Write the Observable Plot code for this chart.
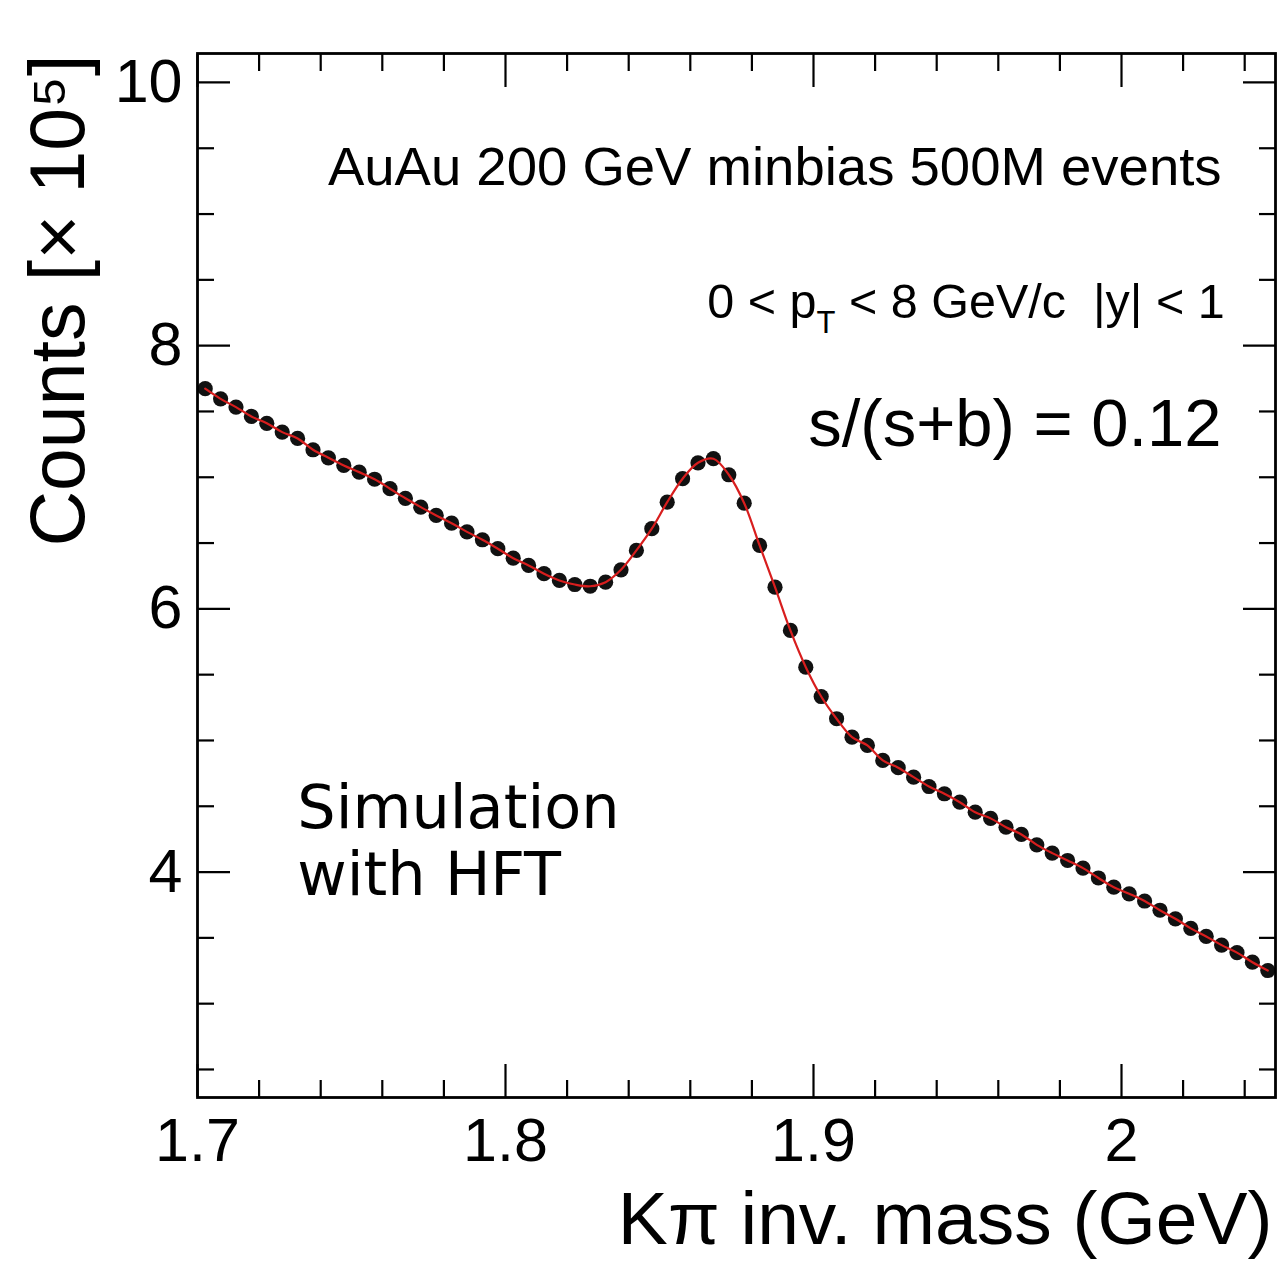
<!DOCTYPE html>
<html>
<head>
<meta charset="utf-8">
<script src="https://cdn.jsdelivr.net/npm/d3@7"></script>
<script src="https://cdn.jsdelivr.net/npm/@observablehq/plot@0.6"></script>
<style>
  html, body { margin: 0; padding: 0; background: #fff; }
  #chart svg { display: block; }
</style>
</head>
<body>
<div id="chart"></div>
<script>
// Bin centres (GeV) of the K-pi invariant mass histogram
const mass = [
  1.7025, 1.7075, 1.7125, 1.7175, 1.7225, 1.7275, 1.7325, 1.7375, 1.7425, 1.7475,
  1.7525, 1.7575, 1.7625, 1.7675, 1.7725, 1.7775, 1.7825, 1.7875, 1.7925, 1.7975,
  1.8025, 1.8075, 1.8125, 1.8175, 1.8225, 1.8275, 1.8325, 1.8375, 1.8425, 1.8475,
  1.8525, 1.8575, 1.8625, 1.8675, 1.8725, 1.8775, 1.8825, 1.8875, 1.8925, 1.8975,
  1.9025, 1.9075, 1.9125, 1.9175, 1.9225, 1.9275, 1.9325, 1.9375, 1.9425, 1.9475,
  1.9525, 1.9575, 1.9625, 1.9675, 1.9725, 1.9775, 1.9825, 1.9875, 1.9925, 1.9975,
  2.0025, 2.0075, 2.0125, 2.0175, 2.0225, 2.0275, 2.0325, 2.0375, 2.0425, 2.0475
];
// Counts (x 10^5)
const counts = [
  7.673, 7.596, 7.533, 7.462, 7.410, 7.343, 7.295, 7.209, 7.148, 7.090,
  7.039, 6.985, 6.913, 6.840, 6.773, 6.710, 6.651, 6.585, 6.525, 6.457,
  6.385, 6.330, 6.267, 6.216, 6.185, 6.172, 6.203, 6.297, 6.444, 6.609,
  6.811, 6.989, 7.110, 7.141, 7.019, 6.803, 6.482, 6.165, 5.836, 5.557,
  5.334, 5.165, 5.025, 4.962, 4.848, 4.793, 4.721, 4.650, 4.595, 4.531,
  4.455, 4.408, 4.341, 4.286, 4.207, 4.144, 4.088, 4.030, 3.955, 3.885,
  3.835, 3.780, 3.710, 3.645, 3.572, 3.511, 3.445, 3.388, 3.315, 3.252
];

const xMajor = [1.7, 1.8, 1.9, 2.0];
const xTickLabels = ["1.7", "1.8", "1.9", "2"];
const xMinor = [1.72, 1.74, 1.76, 1.78, 1.82, 1.84, 1.86, 1.88, 1.92, 1.94, 1.96, 1.98, 2.02, 2.04];
const yMajor = [4, 6, 8, 10];
const yTickLabels = ["4", "6", "8", "10"];
const yMinor = [2.5, 3, 3.5, 4.5, 5, 5.5, 6.5, 7, 7.5, 8.5, 9, 9.5];

const xTitle = "K\u03c0 inv. mass (GeV)";
const yTitle = "Counts [\u00d7 10\u2075]";
const line1 = "AuAu 200 GeV minbias 500M events";
const ptParts = ["0 < p", "T", " < 8 GeV/c\u00a0\u00a0|y| < 1"];
const sbText = "s/(s+b) = 0.12";
const simText = "Simulation\nwith HFT";

const points = mass.map((m, i) => ({m, c: counts[i]}));

const font = "'Liberation Sans', Arial, Helvetica, sans-serif";
const tickLen = 33, minorLen = 17;

const plot = Plot.plot({
  width: 1279,
  height: 1261,
  marginLeft: 197,
  marginRight: 4,
  marginTop: 53,
  marginBottom: 164,
  style: {fontFamily: font, background: "#fff", color: "#000"},
  x: {domain: [1.7, 2.05]},
  y: {domain: [2.287, 10.22]},
  marks: [
    // inward ticks on all four sides (ROOT style)
    Plot.axisX(xMajor, {anchor: "bottom", tickSize: -tickLen, tickFormat: () => "", strokeWidth: 2.2, label: null}),
    Plot.axisX(xMinor, {anchor: "bottom", tickSize: -minorLen, tickFormat: () => "", strokeWidth: 2.2, label: null}),
    Plot.axisX(xMajor, {anchor: "top", tickSize: -tickLen, tickFormat: () => "", strokeWidth: 2.2, label: null}),
    Plot.axisX(xMinor, {anchor: "top", tickSize: -minorLen, tickFormat: () => "", strokeWidth: 2.2, label: null}),
    Plot.axisY(yMajor, {anchor: "left", tickSize: -tickLen, tickFormat: () => "", strokeWidth: 2.2, label: null}),
    Plot.axisY(yMinor, {anchor: "left", tickSize: -minorLen, tickFormat: () => "", strokeWidth: 2.2, label: null}),
    Plot.axisY(yMajor, {anchor: "right", tickSize: -tickLen, tickFormat: () => "", strokeWidth: 2.2, label: null}),
    Plot.axisY(yMinor, {anchor: "right", tickSize: -minorLen, tickFormat: () => "", strokeWidth: 2.2, label: null}),
    // tick labels
    Plot.axisX(xMajor, {anchor: "bottom", tickSize: 0, tickPadding: 20, fontSize: 61, label: null,
      tickFormat: (d) => xTickLabels[xMajor.indexOf(d)]}),
    Plot.axisY(yMajor, {anchor: "left", tickSize: 0, tickPadding: 15, fontSize: 61, label: null,
      tickFormat: (d) => yTickLabels[yMajor.indexOf(d)]}),
    // axis titles
    Plot.text([xTitle], {frameAnchor: "bottom-right", dx: -3, dy: 146, textAnchor: "end",
      lineAnchor: "bottom", fontSize: 75}),
    Plot.text([yTitle], {frameAnchor: "top-left", dx: -114, dy: 1, rotate: -90, textAnchor: "end",
      lineAnchor: "bottom", fontSize: 77}),
    // data and fit
    Plot.dot(points, {x: "m", y: "c", r: 7.6, fill: "#111", stroke: "none"}),
    Plot.line(points, {x: "m", y: "c", stroke: "#d81e1e", strokeWidth: 2.2, curve: "catmull-rom"}),
    // annotations
    Plot.text([line1], {x: [2.0325], y: [9.217], textAnchor: "end", lineAnchor: "bottom", fontSize: 54.5}),
    Plot.text([ptParts.join("")], {x: [2.0335], y: [8.207], textAnchor: "end", lineAnchor: "bottom", fontSize: 48.5}),
    Plot.text([sbText], {x: [2.0325], y: [7.234], textAnchor: "end", lineAnchor: "bottom", fontSize: 67}),
    Plot.text([simText], {x: [1.7324], y: [3.822], textAnchor: "start", lineAnchor: "bottom", fontSize: 60.5,
      lineHeight: 1.11, fontFamily: "'DejaVu Sans', Verdana, sans-serif"}),
    Plot.frame({stroke: "#000", strokeWidth: 2.8})
  ]
});

// p_T subscript as real text tspans
d3.select(plot).selectAll("text")
  .filter(function () { return this.textContent === ptParts.join(""); })
  .each(function () {
    const t = d3.select(this);
    t.text(null);
    t.append("tspan").text(ptParts[0]);
    t.append("tspan").attr("dy", 15).attr("font-size", 31).attr("fill", "#000").text(ptParts[1]);
    t.append("tspan").attr("dy", -15).text(ptParts[2]);
  });

document.getElementById("chart").append(plot);
</script>
</body>
</html>
